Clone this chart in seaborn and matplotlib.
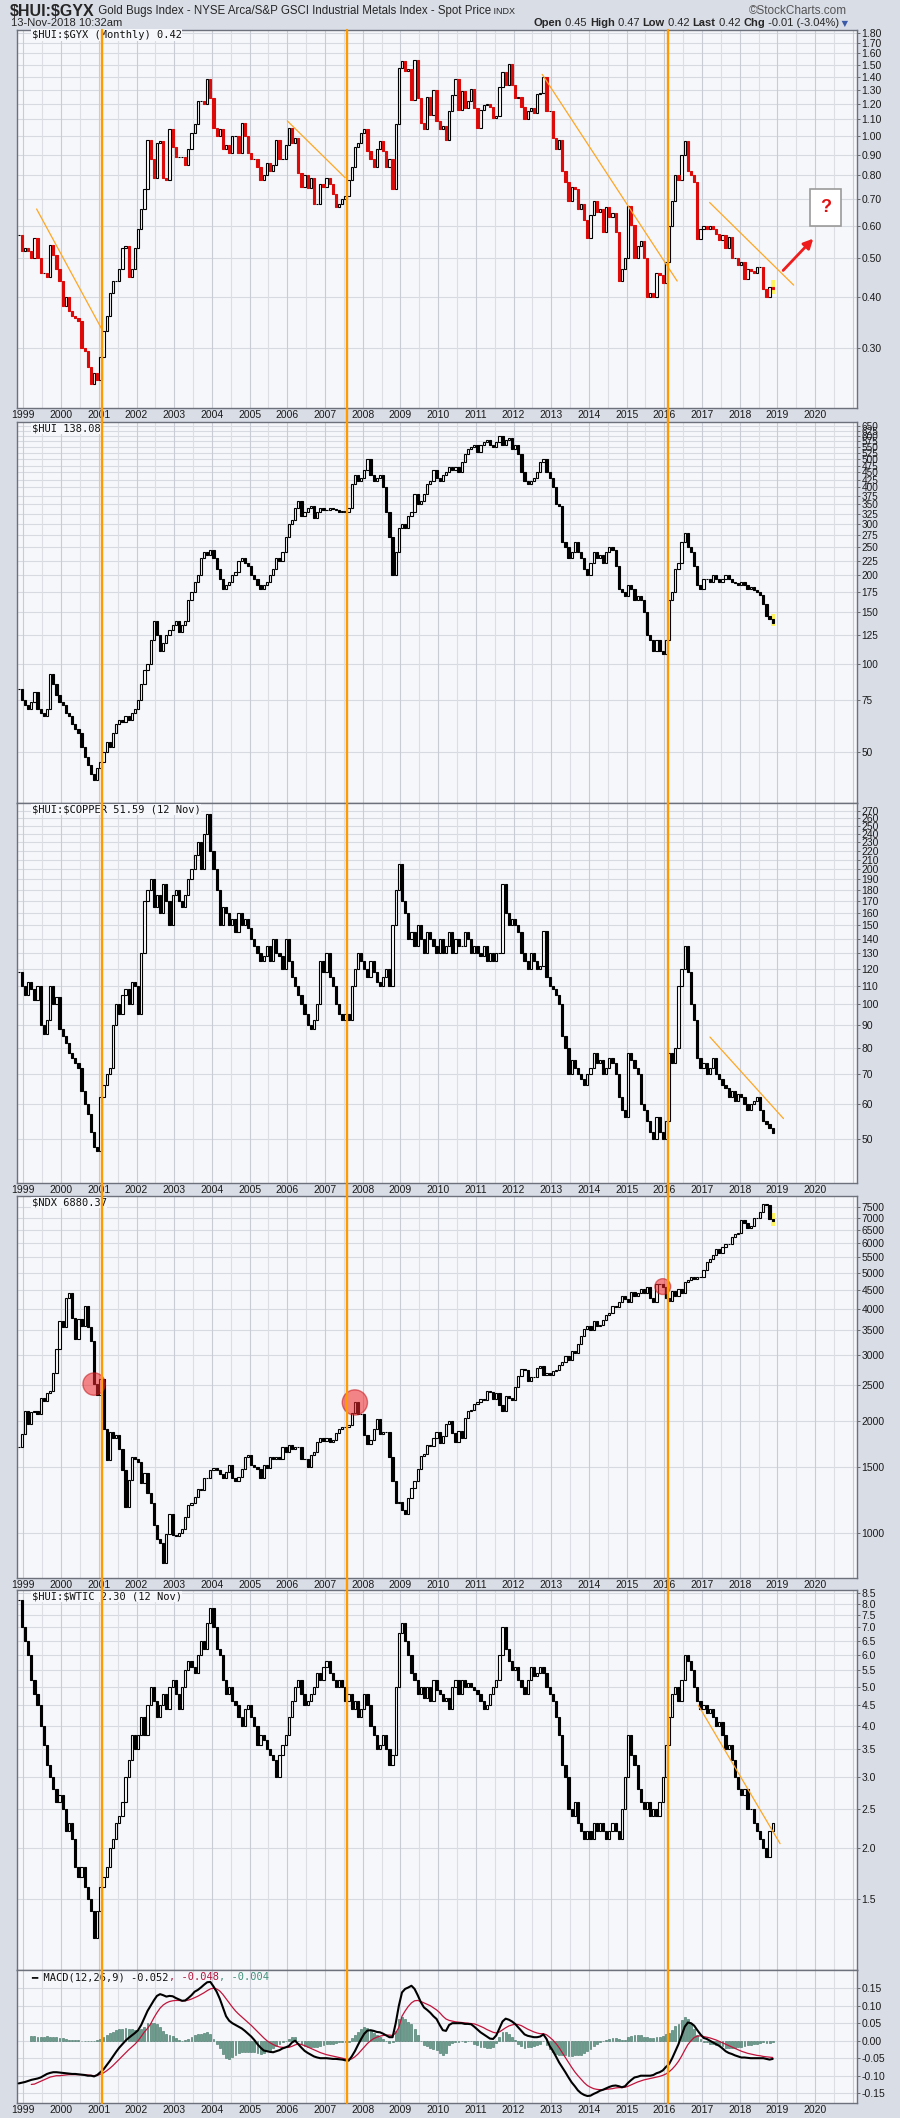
import numpy as np
import pandas as pd
import matplotlib
matplotlib.use('Agg')
import matplotlib.pyplot as plt
import seaborn as sns
from matplotlib.ticker import FixedLocator, FixedFormatter, NullLocator
from matplotlib.transforms import blended_transform_factory
from matplotlib.lines import Line2D

sns.set_theme(style='white')
plt.rcParams['font.family'] = ['Liberation Sans', 'DejaVu Sans']

# monthly closes, Nov 1998 .. Nov 2018
months = pd.date_range('1998-11-01', '2018-11-01', freq='MS')

hui_gyx = [
    0.57, 0.52,
    0.53, 0.52, 0.50, 0.56, 0.50, 0.46, 0.46, 0.45, 0.54, 0.51, 0.47, 0.44,
    0.38, 0.40, 0.37, 0.36, 0.355, 0.35, 0.30, 0.295, 0.27, 0.245, 0.26, 0.25,
    0.285, 0.33, 0.36, 0.41, 0.44, 0.44, 0.47, 0.53, 0.535, 0.45, 0.47, 0.53,
    0.59, 0.66, 0.74, 0.98, 0.88, 0.79, 0.96, 0.97, 0.79, 0.78, 1.04, 0.94,
    0.89, 0.89, 0.89, 0.85, 0.93, 1.02, 1.07, 1.22, 1.22, 1.20, 1.38, 1.24,
    1.05, 1.00, 1.04, 0.93, 0.95, 0.91, 1.00, 1.00, 0.91, 1.08, 1.00, 0.91,
    0.88, 0.88, 0.84, 0.78, 0.80, 0.86, 0.82, 0.85, 0.98, 0.88, 0.88, 0.95,
    1.05, 0.96, 0.99, 0.81, 0.75, 0.80, 0.745, 0.79, 0.68, 0.68, 0.76, 0.75,
    0.79, 0.76, 0.72, 0.67, 0.68, 0.70, 0.71, 0.78, 0.84, 0.94, 0.96, 1.02,
    1.04, 0.92, 0.88, 0.84, 0.93, 0.97, 0.92, 0.84, 0.88, 0.74, 1.07, 1.47,
    1.53, 1.45, 1.46, 1.23, 1.54, 1.24, 1.08, 1.04, 1.25, 1.13, 1.30, 1.09,
    1.04, 1.06, 0.98, 1.15, 1.26, 1.38, 1.16, 1.29, 1.17, 1.22, 1.31, 1.17,
    1.05, 1.16, 1.19, 1.20, 1.18, 1.11, 1.12, 1.32, 1.44, 1.34, 1.51, 1.34,
    1.24, 1.25, 1.18, 1.10, 1.15, 1.17, 1.14, 1.27, 1.28, 1.40, 1.15, 1.15,
    0.99, 0.93, 0.98, 0.82, 0.77, 0.69, 0.75, 0.74, 0.66, 0.68, 0.62, 0.56,
    0.64, 0.69, 0.65, 0.66, 0.58, 0.67, 0.63, 0.645, 0.58, 0.44, 0.47, 0.50,
    0.673, 0.605, 0.50, 0.535, 0.55, 0.50, 0.40, 0.41, 0.40, 0.46, 0.455, 0.435,
    0.49, 0.60, 0.69, 0.80, 0.78, 0.90, 0.97, 0.82, 0.80, 0.77, 0.557, 0.59,
    0.60, 0.59, 0.60, 0.59, 0.575, 0.555, 0.57, 0.53, 0.565, 0.50, 0.50, 0.48,
    0.49, 0.445, 0.47, 0.465, 0.46, 0.475, 0.475, 0.42, 0.40, 0.425, 0.42,
]

hui = [
    82, 75,
    72, 70, 74, 80, 70, 68, 66, 70, 92, 85, 78, 74,
    72, 68, 66, 62, 60, 58, 52, 48, 45, 42, 40, 44,
    46, 50, 54, 52, 58, 62, 64, 63, 66, 64, 68, 70,
    75, 85, 95, 100, 120, 140, 125, 110, 118, 125, 130, 135,
    140, 128, 135, 140, 165, 175, 190, 200, 230, 240, 235, 245,
    230, 210, 195, 180, 185, 190, 200, 205, 225, 230, 220, 215,
    200, 195, 185, 180, 185, 190, 200, 210, 230, 225, 240, 270,
    300, 310, 340, 360, 320, 330, 340, 345, 315, 330, 340, 335,
    335, 340, 338, 335, 330, 332, 330, 340, 410, 440, 420, 430,
    460, 500, 440, 420, 430, 440, 400, 330, 270, 200, 240, 290,
    300, 290, 320, 330, 380, 350, 360, 380, 410, 420, 460, 430,
    420, 440, 450, 470, 460, 470, 450, 490, 520, 540, 550, 560,
    530, 560, 570, 580, 560, 550, 570, 600, 560, 580, 590, 540,
    560, 520, 450, 420, 410, 420, 430, 450, 490, 500, 450, 430,
    400, 350, 345, 260, 250, 230, 240, 260, 240, 230, 210, 200,
    220, 240, 230, 235, 220, 240, 250, 245, 215, 180, 175, 170,
    185, 180, 165, 170, 165, 150, 125, 120, 110, 120, 110, 108,
    120, 165, 175, 210, 220, 260, 280, 250, 240, 215, 185, 180,
    195, 195, 190, 200, 195, 190, 195, 200, 195, 190, 188, 185,
    190, 185, 180, 182, 178, 175, 172, 160, 145, 142, 138.08,
]

hui_copper = [
    118, 110,
    105, 112, 108, 102, 110, 90, 86, 92, 110, 100, 104, 88,
    85, 82, 78, 76, 74, 72, 64, 60, 57, 52, 48, 47,
    62, 66, 70, 72, 90, 100, 95, 105, 108, 100, 112, 110,
    95, 130, 170, 180, 190, 165, 175, 160, 185, 170, 150, 175,
    180, 170, 165, 175, 190, 200, 215, 230, 200, 240, 265, 220,
    200, 180, 150, 165, 160, 150, 155, 145, 160, 150, 155, 148,
    140, 135, 130, 125, 128, 135, 125, 140, 130, 128, 120, 140,
    125, 115, 110, 105, 100, 95, 90, 88, 92, 100, 125, 118,
    130, 115, 110, 100, 95, 92, 95, 92, 110, 120, 130, 125,
    120, 115, 125, 118, 112, 110, 115, 120, 110, 150, 180, 205,
    170, 160, 140, 145, 135, 150, 140, 130, 145, 140, 135, 130,
    140, 130, 135, 145, 130, 140, 135, 135, 145, 140, 130, 135,
    130, 128, 135, 125, 130, 125, 130, 130, 185, 160, 150, 155,
    150, 145, 130, 125, 120, 130, 125, 120, 122, 146, 115, 110,
    108, 105, 100, 85, 80, 70, 75, 72, 70, 68, 66, 70,
    72, 78, 74, 75, 70, 72, 76, 74, 70, 62, 58, 56,
    78, 75, 72, 70, 60, 58, 55, 52, 50, 56, 52, 50,
    55, 78, 74, 80, 110, 120, 135, 118, 100, 92, 76, 72,
    74, 70, 72, 76, 70, 68, 66, 65, 62, 64, 61, 63,
    62, 60, 58, 60, 61, 62, 58, 55, 54, 53, 51.59,
]

ndx = [
    1700, 1840,
    2130, 1960, 2110, 2120, 2090, 2300, 2260, 2380, 2410, 2680, 3110, 3710,
    3570, 4270, 4400, 3770, 3320, 3760, 3600, 4080, 3570, 3280, 2510, 2340,
    2590, 1900, 1570, 1860, 1800, 1830, 1680, 1470, 1170, 1390, 1600, 1580,
    1550, 1360, 1450, 1280, 1200, 1050, 960, 940, 830, 990, 1120, 985,
    980, 1000, 1020, 1100, 1190, 1200, 1250, 1310, 1300, 1400, 1400, 1470,
    1490, 1470, 1440, 1400, 1460, 1520, 1400, 1380, 1410, 1480, 1600, 1620,
    1520, 1500, 1480, 1400, 1520, 1490, 1600, 1580, 1600, 1580, 1700, 1650,
    1720, 1680, 1700, 1700, 1580, 1580, 1500, 1620, 1650, 1750, 1800, 1760,
    1800, 1750, 1770, 1850, 1900, 1930, 1930, 1950, 2100, 2240, 2080, 2080,
    1830, 1730, 1780, 1900, 2020, 1840, 1860, 1870, 1600, 1380, 1200, 1210,
    1150, 1120, 1240, 1320, 1380, 1480, 1610, 1630, 1720, 1710, 1800, 1860,
    1740, 1820, 1960, 2000, 1850, 1750, 1880, 1800, 2030, 2120, 2140, 2220,
    2240, 2290, 2280, 2410, 2390, 2290, 2370, 2200, 2130, 2330, 2300, 2280,
    2460, 2640, 2760, 2740, 2560, 2620, 2630, 2770, 2800, 2660, 2680, 2660,
    2730, 2740, 2820, 2880, 2980, 2910, 3080, 3040, 3220, 3390, 3520, 3590,
    3510, 3700, 3600, 3610, 3740, 3850, 3890, 4060, 4050, 4160, 4340, 4240,
    4160, 4450, 4330, 4410, 4510, 4400, 4590, 4270, 4180, 4650, 4670, 4590,
    4280, 4200, 4480, 4340, 4520, 4420, 4730, 4770, 4880, 4800, 4860, 4860,
    5100, 5330, 5440, 5580, 5790, 5650, 5880, 5990, 5980, 6250, 6370, 6400,
    6950, 6820, 6580, 6660, 7020, 7040, 7270, 7660, 7630, 6970, 6880.37,
]

hui_wtic = [
    8.2, 7.0,
    6.5, 6.0, 5.2, 4.8, 4.5, 4.0, 3.6, 3.2, 3.0, 2.8, 2.6, 2.7,
    2.5, 2.2, 2.3, 2.1, 1.8, 1.7, 1.8, 1.6, 1.5, 1.4, 1.2, 1.4,
    1.6, 1.7, 1.8, 2.0, 2.1, 2.3, 2.4, 2.6, 3.0, 3.3, 3.8, 3.5,
    3.8, 4.2, 3.8, 4.5, 5.0, 4.6, 4.2, 4.5, 4.8, 4.4, 5.0, 5.2,
    4.8, 4.4, 5.0, 5.5, 5.8, 5.6, 5.4, 6.0, 6.5, 6.2, 7.2, 7.8,
    7.0, 6.2, 6.0, 5.2, 4.8, 5.0, 4.6, 4.5, 4.2, 4.0, 4.4, 4.5,
    4.2, 4.0, 3.6, 3.8, 3.7, 3.5, 3.4, 3.3, 3.0, 3.4, 3.6, 3.8,
    4.2, 4.6, 5.0, 5.2, 4.8, 4.5, 4.6, 4.8, 5.0, 5.4, 5.2, 5.6,
    5.8, 5.4, 5.2, 5.0, 5.2, 5.0, 4.6, 4.8, 4.4, 4.6, 4.2, 4.4,
    4.8, 4.5, 4.0, 3.8, 3.5, 3.6, 3.8, 3.5, 3.2, 3.4, 5.0, 6.8,
    7.2, 6.5, 6.0, 5.4, 5.2, 4.8, 5.0, 4.7, 5.0, 4.6, 5.2, 4.9,
    4.8, 4.6, 4.7, 4.4, 5.0, 5.2, 4.8, 5.2, 5.0, 5.1, 5.0, 4.9,
    4.8, 4.6, 4.4, 4.5, 4.8, 5.0, 5.2, 6.0, 7.0, 6.2, 5.8, 5.5,
    5.6, 5.2, 5.0, 4.8, 5.2, 5.6, 5.3, 5.4, 5.6, 5.4, 5.0, 4.8,
    4.6, 4.2, 3.8, 3.2, 3.0, 2.5, 2.4, 2.6, 2.3, 2.2, 2.1, 2.2,
    2.1, 2.3, 2.2, 2.3, 2.2, 2.1, 2.2, 2.3, 2.2, 2.1, 2.5, 3.0,
    3.8, 3.4, 3.2, 2.8, 2.6, 2.5, 2.6, 2.4, 2.5, 2.4, 2.6, 3.0,
    3.6, 4.2, 4.8, 5.0, 4.6, 5.2, 6.0, 5.8, 5.5, 5.0, 4.6, 4.4,
    4.5, 4.3, 4.4, 4.2, 4.0, 4.1, 3.8, 3.5, 3.6, 3.3, 3.0, 2.8,
    2.7, 2.8, 2.5, 2.5, 2.3, 2.2, 2.1, 2.0, 1.9, 2.2, 2.30,
]

macd_line = [
    -0.122, -0.120,
    -0.118, -0.115, -0.112, -0.110, -0.108, -0.105, -0.100, -0.095, -0.092, -0.090, -0.090, -0.091,
    -0.092, -0.093, -0.094, -0.095, -0.095, -0.096, -0.097, -0.098, -0.100, -0.100, -0.102, -0.098,
    -0.090, -0.082, -0.070, -0.058, -0.045, -0.032, -0.020, -0.010, 0.000, 0.008, 0.015, 0.022,
    0.030, 0.045, 0.065, 0.085, 0.100, 0.115, 0.128, 0.133, 0.130, 0.126, 0.128, 0.127,
    0.122, 0.118, 0.114, 0.115, 0.122, 0.130, 0.140, 0.145, 0.152, 0.160, 0.167, 0.168,
    0.155, 0.140, 0.120, 0.095, 0.070, 0.057, 0.050, 0.045, 0.040, 0.035, 0.028, 0.020,
    0.012, 0.002, -0.010, -0.020, -0.028, -0.030, -0.032, -0.033, -0.030, -0.027, -0.022, -0.019,
    -0.015, -0.005, 0.000, -0.010, -0.020, -0.029, -0.035, -0.040, -0.045, -0.048, -0.050, -0.050,
    -0.050, -0.051, -0.052, -0.052, -0.053, -0.054, -0.056, -0.057, -0.045, -0.030, -0.012, 0.005,
    0.020, 0.029, 0.030, 0.028, 0.025, 0.024, 0.020, 0.015, 0.010, 0.010, 0.050, 0.100,
    0.138, 0.148, 0.152, 0.157, 0.148, 0.130, 0.110, 0.095, 0.088, 0.080, 0.070, 0.062,
    0.045, 0.030, 0.028, 0.045, 0.050, 0.050, 0.050, 0.050, 0.048, 0.048, 0.047, 0.040,
    0.032, 0.024, 0.018, 0.012, 0.006, 0.005, 0.015, 0.035, 0.055, 0.063, 0.060, 0.055,
    0.048, 0.038, 0.028, 0.018, 0.014, 0.012, 0.010, 0.010, 0.012, 0.018, 0.005, -0.015,
    -0.029, -0.045, -0.062, -0.076, -0.090, -0.105, -0.119, -0.130, -0.142, -0.150, -0.155, -0.158,
    -0.157, -0.152, -0.148, -0.143, -0.140, -0.136, -0.132, -0.129, -0.128, -0.130, -0.133, -0.130,
    -0.120, -0.112, -0.105, -0.103, -0.100, -0.100, -0.100, -0.100, -0.098, -0.093, -0.090, -0.085,
    -0.075, -0.067, -0.050, -0.030, -0.010, 0.015, 0.040, 0.052, 0.050, 0.043, 0.030, 0.018,
    0.008, 0.005, 0.000, -0.005, -0.010, -0.015, -0.022, -0.030, -0.035, -0.038, -0.042, -0.045,
    -0.048, -0.048, -0.049, -0.050, -0.050, -0.050, -0.050, -0.050, -0.052, -0.054, -0.052,
]

macd_signal = [
    np.nan, np.nan,
    np.nan, np.nan, -0.125, -0.124, -0.120, -0.116, -0.112, -0.108, -0.104, -0.102, -0.100, -0.100,
    -0.099, -0.098, -0.097, -0.097, -0.097, -0.097, -0.097, -0.097, -0.098, -0.099, -0.100, -0.099,
    -0.096, -0.092, -0.086, -0.079, -0.071, -0.062, -0.053, -0.044, -0.035, -0.026, -0.018, -0.010,
    0.000, 0.012, 0.025, 0.035, 0.048, 0.065, 0.080, 0.093, 0.102, 0.108, 0.112, 0.114,
    0.115, 0.115, 0.114, 0.114, 0.116, 0.119, 0.123, 0.127, 0.132, 0.137, 0.143, 0.148,
    0.150, 0.148, 0.142, 0.132, 0.120, 0.108, 0.096, 0.085, 0.076, 0.068, 0.060, 0.052,
    0.044, 0.035, 0.026, 0.017, 0.008, 0.000, -0.006, -0.011, -0.015, -0.018, -0.019, -0.019,
    -0.019, -0.016, -0.012, -0.009, -0.011, -0.014, -0.018, -0.022, -0.026, -0.030, -0.034, -0.037,
    -0.040, -0.042, -0.044, -0.046, -0.048, -0.050, -0.052, -0.053, -0.052, -0.046, -0.038, -0.028,
    -0.018, -0.008, 0.000, 0.006, 0.010, 0.013, 0.015, 0.016, 0.016, 0.015, 0.022, 0.038,
    0.070, 0.085, 0.098, 0.108, 0.114, 0.115, 0.112, 0.108, 0.104, 0.100, 0.094, 0.088,
    0.080, 0.070, 0.062, 0.058, 0.056, 0.054, 0.053, 0.052, 0.051, 0.050, 0.049, 0.048,
    0.045, 0.041, 0.037, 0.032, 0.028, 0.024, 0.022, 0.025, 0.031, 0.037, 0.042, 0.045,
    0.047, 0.046, 0.043, 0.038, 0.033, 0.029, 0.025, 0.022, 0.020, 0.020, 0.017, 0.010,
    0.002, -0.008, -0.020, -0.034, -0.048, -0.062, -0.076, -0.089, -0.100, -0.110, -0.120, -0.128,
    -0.133, -0.137, -0.139, -0.140, -0.140, -0.139, -0.138, -0.137, -0.135, -0.134, -0.134, -0.133,
    -0.130, -0.126, -0.122, -0.118, -0.115, -0.112, -0.110, -0.108, -0.106, -0.104, -0.102, -0.099,
    -0.095, -0.089, -0.081, -0.071, -0.059, -0.044, -0.027, -0.011, 0.000, 0.009, 0.013, 0.014,
    0.012, 0.010, 0.008, 0.005, 0.002, -0.002, -0.006, -0.010, -0.014, -0.018, -0.022, -0.026,
    -0.030, -0.033, -0.036, -0.038, -0.040, -0.042, -0.043, -0.045, -0.046, -0.047, -0.048,
]

year_labels = [str(y) for y in range(1999, 2021)]
gyx_ticks = [0.30, 0.40, 0.50, 0.60, 0.70, 0.80, 0.90, 1.00, 1.10, 1.20, 1.30,
             1.40, 1.50, 1.60, 1.70, 1.80]
hui_ticks = [50, 75] + list(range(100, 651, 25))
copper_ticks = list(range(50, 271, 10))
ndx_ticks = list(range(1000, 7501, 500))
wtic_ticks = [1.5, 2.0, 2.5, 3.0, 3.5, 4.0, 4.5, 5.0, 5.5, 6.0, 6.5, 7.0, 7.5, 8.0, 8.5]
macd_ticks = [-0.15, -0.10, -0.05, 0.00, 0.05, 0.10, 0.15]

# annotations drawn on the chart
event_lines = [2001.08, 2007.57, 2016.09]
gyx_trends = [((1999.35, 0.661), (2001.08, 0.334)), ((2006.0, 1.09), (2007.53, 0.79)),
              ((2012.76, 1.42), (2016.34, 0.439)), ((2017.2, 0.686), (2019.43, 0.429))]
copper_trends = [((2017.21, 84.5), (2019.16, 55.6))]
wtic_trends = [((2016.9, 4.5), (2019.07, 2.05))]
ndx_marks = ['2000-11', '2007-10', '2015-12']

W, H = 900, 2118
XMIN, XMAX = 1998.83, 2021.11
t = np.asarray(months.year + (months.month - 0.5) / 12, dtype=float)

fig = plt.figure(figsize=(W / 100, H / 100), dpi=100, facecolor='#d9dde6')


def panel(top, bottom):
    return fig.add_axes([17 / W, 1 - bottom / H, 840 / W, (bottom - top) / H])


def style(ax, ticks, fmt, ylim, log=True, xlabels=False, ysize=7.5):
    ax.set_facecolor('#f6f7fa')
    if log:
        ax.set_yscale('log')
    ax.set_xlim(XMIN, XMAX)
    ax.set_ylim(*ylim)
    ax.yaxis.set_major_locator(FixedLocator(ticks))
    ax.yaxis.set_major_formatter(FixedFormatter([fmt(v) for v in ticks]))
    ax.yaxis.set_minor_locator(NullLocator())
    ax.yaxis.tick_right()
    ax.xaxis.set_major_locator(FixedLocator(list(range(1999, 2021))))
    ax.xaxis.set_major_formatter(FixedFormatter(year_labels if xlabels else [''] * 22))
    ax.xaxis.set_minor_locator(NullLocator())
    for gy in ticks:
        ax.axhline(gy, color='#d7dae1', lw=0.8, zorder=0)
    for gx in np.arange(1999, 2021.6, 0.5):
        ax.axvline(gx, color='#c9ccd4' if gx % 1 == 0 else '#dcdee4', lw=0.8, zorder=0)
    ax.tick_params(axis='y', length=2.5, width=0.6, color='#555', labelcolor='#1a1a1a',
                   labelsize=ysize, pad=0.8)
    ax.tick_params(axis='x', length=0, labelcolor='#1a1a1a', labelsize=7.5, pad=1.5)
    for s in ax.spines.values():
        s.set_color('#6d717c')
        s.set_linewidth(1.0)


def candles(ax, close, down_color, highlight=False):
    close = np.asarray(close, float)
    opn = np.r_[close[0], close[:-1]]
    lo, hi = np.minimum(opn, close), np.maximum(opn, close)
    up = close >= opn
    w = 0.72 / 12
    if highlight:
        ax.bar(t[-1], hi[-1] * 1.04 - lo[-1] * 0.97, bottom=lo[-1] * 0.97, width=1.4 / 12,
               color='#fff45c', edgecolor='none', zorder=2)
    ax.bar(t[up], hi[up] - lo[up], bottom=lo[up], width=w, color='white',
           edgecolor='black', linewidth=0.8, zorder=3)
    ax.bar(t[~up], hi[~up] - lo[~up], bottom=lo[~up], width=w, color=down_color,
           edgecolor=down_color, linewidth=0.8, zorder=3)


def label(ax, text, top_px, height_px):
    ax.text(14.6 / 840, 1 - top_px / height_px, text, transform=ax.transAxes, ha='left',
            va='center', family='DejaVu Sans Mono', fontsize=7.5, color='#111', zorder=6,
            bbox=dict(fc='#f6f7fa', ec='none', pad=0.6))


def trend(ax, segs, color='#ffa623'):
    for (x0, y0), (x1, y1) in segs:
        ax.plot([x0, x1], [y0, y1], color=color, lw=0.9, zorder=4)


# ---- panel 1: HUI:GYX ----
ax1 = panel(29.7, 408)
style(ax1, gyx_ticks, lambda v: f'{v:.2f}', (0.2135, 1.83), xlabels=True)
candles(ax1, hui_gyx, '#dd0a0a', highlight=True)
trend(ax1, gyx_trends)
label(ax1, '\\$HUI:\\$GYX (Monthly) 0.42', 5.3, 378.3)
ax1.annotate('', xy=(2020.0, 0.565), xytext=(2019.1, 0.461),
             arrowprops=dict(arrowstyle='-|>', color='#ee1c1c', lw=2, mutation_scale=14),
             zorder=7)
ax1.text(2020.27, 0.668, '?', ha='center', va='center', color='#e01010', fontsize=13,
         fontweight='bold', zorder=7,
         bbox=dict(boxstyle='square,pad=0.55', fc='white', ec='#9a9a9a', lw=1.2))

# ---- panel 2: HUI ----
ax2 = panel(422, 803)
style(ax2, hui_ticks, lambda v: f'{v:d}', (33.4, 669), ysize=7.2)
candles(ax2, hui, 'black', highlight=True)
label(ax2, '\\$HUI 138.08', 6.5, 381)

# ---- panel 3: HUI:COPPER ----
ax3 = panel(803, 1182.7)
style(ax3, copper_ticks, lambda v: f'{v:d}', (40.0, 281), xlabels=True)
candles(ax3, hui_copper, 'black')
trend(ax3, copper_trends)
label(ax3, '\\$HUI:\\$COPPER 51.59 (12 Nov)', 6.5, 379.7)

# ---- panel 4: NDX ----
ax4 = panel(1196, 1578.3)
style(ax4, ndx_ticks, lambda v: f'{v:d}', (754, 8043), xlabels=True)
candles(ax4, ndx, 'black', highlight=True)
label(ax4, '\\$NDX 6880.37', 6.5, 382.3)
mark_idx = [months.get_loc(pd.Timestamp(m + '-01')) for m in ndx_marks]
ax4.scatter(t[mark_idx], np.asarray(ndx)[mark_idx], s=[260, 330, 130], color='#f0262a',
            alpha=0.55, edgecolor='#c4161a', linewidth=1.0, zorder=5)

# ---- panel 5: HUI:WTIC ----
ax5 = panel(1590, 1970)
style(ax5, wtic_ticks, lambda v: f'{v:.1f}', (1.0, 8.66))
candles(ax5, hui_wtic, 'black')
trend(ax5, wtic_trends)
label(ax5, '\\$HUI:\\$WTIC 2.30 (12 Nov)', 6.5, 380)

# ---- MACD ----
ax6 = panel(1970, 2103)
style(ax6, macd_ticks, lambda v: f'{v:.2f}'.replace('-0.00', '0.00'), (-0.178, 0.202),
      log=False, xlabels=True)
macd = pd.DataFrame({'t': t, 'macd': macd_line, 'signal': macd_signal})
macd['hist'] = macd['macd'] - macd['signal']
ax6.bar(macd['t'], macd['hist'], width=0.6 / 12, color='#6b9e8d', edgecolor='#3e6f60',
        linewidth=0.4, zorder=2)
sns.lineplot(data=macd, x='t', y='signal', ax=ax6, color='#c0143c', lw=0.9, zorder=3)
sns.lineplot(data=macd, x='t', y='macd', ax=ax6, color='black', lw=1.5, zorder=4)
ax6.set_xlabel('')
ax6.set_ylabel('')
m1 = ax6.text(14.6 / 840, 1 - 7.3 / 133, '\u2501 MACD(12,26,9) -0.052', transform=ax6.transAxes,
              ha='left', va='center', family='DejaVu Sans Mono', fontsize=7.5, color='#111',
              zorder=6)
m2 = ax6.annotate(', -0.048', xy=(1, 0.5), xycoords=m1, ha='left', va='center',
                  family='DejaVu Sans Mono', fontsize=7.5, color='#b0143c')
ax6.annotate(', -0.004', xy=(1, 0.5), xycoords=m2, ha='left', va='center',
             family='DejaVu Sans Mono', fontsize=7.5, color='#3f8f78')

# ---- orange event lines through every panel ----
trans = blended_transform_factory(ax1.transData, fig.transFigure)
for x in event_lines:
    fig.add_artist(Line2D([x, x], [1 - 2103 / H, 1 - 29.7 / H], transform=trans,
                          color='#ff9a00', lw=1.7, zorder=10))

# ---- header ----
narrow = ['Liberation Sans Narrow', 'Liberation Sans', 'DejaVu Sans']
h1 = fig.text(10 / W, 1 - 11 / H, '\\$HUI:\\$GYX', fontsize=11.5, fontweight='bold',
              va='center', ha='left', family=narrow)
h2 = ax1.annotate(' Gold Bugs Index - NYSE Arca/S&P GSCI Industrial Metals Index - Spot Price',
                  xy=(1, 0.5), xycoords=h1, ha='left', va='center', fontsize=8.3,
                  family=narrow, annotation_clip=False)
ax1.annotate(' INDX', xy=(1, 0.5), xycoords=h2, ha='left', va='center', fontsize=6.5,
             family=narrow, annotation_clip=False)
fig.text(11 / W, 1 - 23.5 / H, '13-Nov-2018 10:32am', fontsize=8, va='center', ha='left',
         family=narrow)
fig.text(847 / W, 1 - 11 / H, '\u00a9StockCharts.com', fontsize=8.5, va='center', ha='right',
         color='#555', family=narrow)
parts = [('Open', True), (' 0.45 ', False), ('High', True), (' 0.47 ', False), ('Low', True),
         (' 0.42 ', False), ('Last', True), (' 0.42 ', False), ('Chg', True),
         (' -0.01 (-3.04%)', False)]
prev = fig.text(534 / W, 1 - 23.5 / H, parts[0][0], fontsize=8, fontweight='bold',
                va='center', ha='left', family=narrow)
for txt, bold in parts[1:]:
    prev = ax1.annotate(txt, xy=(1, 0.5), xycoords=prev, ha='left', va='center', fontsize=8,
                        fontweight='bold' if bold else 'normal', family=narrow,
                        annotation_clip=False)
ax1.annotate(' \u25bc', xy=(1, 0.5), xycoords=prev, ha='left', va='center', fontsize=6,
             color='#3a5aa8', family='DejaVu Sans', annotation_clip=False)

fig.savefig('out.png', dpi=100, facecolor=fig.get_facecolor())
